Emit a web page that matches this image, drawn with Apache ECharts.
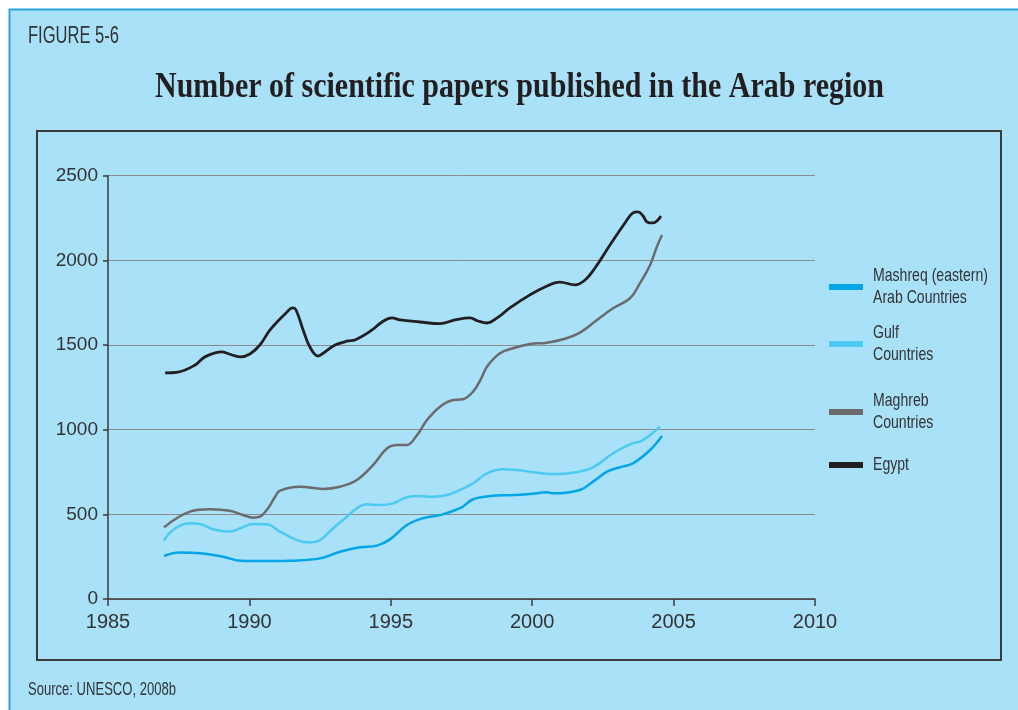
<!DOCTYPE html>
<html><head><meta charset="utf-8">
<script src="https://cdn.jsdelivr.net/npm/echarts@6/dist/echarts.min.js"></script>
<style>html,body{margin:0;padding:0;background:#fff;}#c{width:1018px;height:710px;}</style>
</head><body><div id="c"></div>
<script>
const figureLabel = 'FIGURE 5-6';
const titleText = 'Number of scientific papers published in the Arab region';
const sourceText = 'Source: UNESCO, 2008b';
const seriesNames = ['Mashreq (eastern)\nArab Countries', 'Gulf\nCountries', 'Maghreb\nCountries', 'Egypt'];
const seriesColors = ['#00a6e6', '#4ccaf3', '#6b6b6b', '#231f20'];
const xTicks = [1985, 1990, 1995, 2000, 2005, 2010];
const yTicks = [0, 500, 1000, 1500, 2000, 2500];

const mashreqYears = [1986.98,1987.55,1988.25,1989.07,1989.67,1990.83,1991.44,1992.50,1993.20,1993.91,1994.51,1994.97,1995.57,1996.14,1996.74,1997.45,1997.91,1998.51,1999.32,1999.92,2000.52,2000.74,2001.69,2002.15,2002.65,2003.11,2003.56,2004.17,2004.59];
const mashreqValues = [254,274,270,250,226,224,226,240,279,305,315,352,437,477,496,536,589,608,614,620,630,624,644,693,752,778,801,880,963];

const gulfYears = [1986.98,1987.30,1987.90,1988.25,1988.71,1989.31,1989.67,1990.13,1990.62,1991.08,1991.68,1992.14,1992.50,1992.96,1993.45,1993.80,1994.16,1994.62,1995.08,1995.57,1996.03,1996.49,1996.99,1997.45,1997.91,1998.40,1998.97,1999.46,1999.92,2000.74,2001.44,2002.15,2002.86,2003.56,2003.81,2004.17,2004.52];
const gulfValues = [344,408,447,443,412,398,418,443,441,398,348,333,348,418,486,536,559,555,565,601,608,604,614,644,683,742,766,762,752,738,746,778,861,920,929,969,1018];

const maghrebYears = [1986.98,1987.90,1988.61,1989.31,1989.77,1990.13,1990.37,1990.66,1990.91,1991.08,1991.79,1992.60,1993.20,1993.80,1994.37,1994.87,1995.22,1995.57,1995.93,1996.28,1996.74,1997.20,1997.55,1997.91,1998.19,1998.40,1998.86,1999.32,1999.92,2000.52,2001.09,2001.69,2002.29,2002.86,2003.46,2003.81,2004.17,2004.41,2004.59];
const maghrebValues = [423,516,530,521,496,480,486,536,604,640,663,650,663,703,791,890,910,910,969,1057,1136,1175,1180,1225,1300,1372,1451,1481,1506,1514,1534,1573,1648,1717,1776,1865,1973,2081,2150];

const egyptYears = [1987.02,1987.48,1988.08,1988.43,1989.03,1989.28,1989.67,1990.02,1990.37,1990.73,1991.26,1991.54,1991.65,1991.90,1992.14,1992.43,1992.57,1993.03,1993.49,1993.73,1994.34,1994.69,1995.04,1995.33,1996.03,1996.74,1997.27,1997.80,1998.08,1998.40,1998.76,1999.21,1999.92,2000.45,2000.98,2001.51,2001.87,2002.22,2002.75,2003.28,2003.56,2003.74,2003.92,2004.06,2004.27,2004.45,2004.55];
const egyptValues = [1335,1340,1382,1430,1459,1447,1430,1447,1500,1589,1683,1719,1707,1589,1488,1435,1447,1500,1524,1530,1589,1636,1660,1648,1636,1626,1648,1660,1642,1630,1660,1719,1796,1843,1872,1855,1884,1955,2091,2221,2280,2286,2262,2227,2221,2239,2262];

const allYears = [mashreqYears, gulfYears, maghrebYears, egyptYears];
const allValues = [mashreqValues, gulfValues, maghrebValues, egyptValues];

const cv = document.createElement('canvas').getContext('2d');
function fitScale(text, font, target) { cv.font = font; return target / cv.measureText(text).width; }

const titleFont = 'bold 35px "Liberation Serif"';
const figFont = '23px "Liberation Sans"';
const srcFont = '19px "Liberation Sans"';
const legFont = '19px "Liberation Sans"';
const legScale = fitScale('Mashreq (eastern)', legFont, 115);

const legendCenters = [287, 344, 412, 465];
const legendLineGap = 22;

const legendTexts = [];
seriesNames.forEach((n, i) => {
  const lines = n.split('\n');
  const top = legendCenters[i] - (lines.length - 1) * legendLineGap / 2;
  lines.forEach((ln, k) => {
    legendTexts.push({type: 'text', x: 873, y: top + k * legendLineGap, scaleX: legScale,
      style: {text: ln, font: legFont, fill: '#333333', align: 'left', verticalAlign: 'middle'}});
  });
});

const chart = echarts.init(document.getElementById('c'), null, {renderer: 'canvas'});
const option = {
  backgroundColor: '#ffffff',
  animation: false,
  graphic: [
    {type: 'rect', z: -100, shape: {x: 9.5, y: 9.5, width: 1040, height: 740}, style: {fill: '#a9e1f9', stroke: '#2ba6de', lineWidth: 2}},
    {type: 'rect', z: -90, shape: {x: 37, y: 131, width: 964, height: 529}, style: {fill: 'none', stroke: '#3b3b3b', lineWidth: 2}},
    {type: 'text', x: 28, y: 37, scaleX: fitScale(figureLabel, figFont, 91), style: {text: figureLabel, font: figFont, fill: '#333333', align: 'left', verticalAlign: 'middle'}},
    {type: 'text', x: 155, y: 88, scaleX: fitScale(titleText, titleFont, 729), style: {text: titleText, font: titleFont, fill: '#231f20', align: 'left', verticalAlign: 'middle'}},
    {type: 'text', x: 28, y: 690, scaleX: fitScale(sourceText, srcFont, 148), style: {text: sourceText, font: srcFont, fill: '#333333', align: 'left', verticalAlign: 'middle'}}
  ].concat(legendTexts),
  legend: seriesNames.map((n, i) => ({
    data: [n], orient: 'vertical', left: 829, top: legendCenters[i] - 3, padding: 0,
    icon: 'rect', itemWidth: 34, itemHeight: 6, itemGap: 0, selectedMode: true,
    formatter: () => '',
    textStyle: {fontSize: 6, lineHeight: 6}
  })),
  grid: {left: 108, right: 203, top: 175.7, bottom: 111, containLabel: false},
  xAxis: {
    type: 'value', min: xTicks[0], max: xTicks[xTicks.length - 1], interval: 5,
    axisLine: {show: true, lineStyle: {color: '#3b3b3b', width: 1.5}},
    axisTick: {show: true, inside: false, length: 7, lineStyle: {color: '#3b3b3b', width: 1.5}},
    axisLabel: {formatter: v => String(v), fontFamily: '"Liberation Sans"', fontSize: 20, color: '#333333', margin: 13},
    splitLine: {show: false}
  },
  yAxis: {
    type: 'value', min: yTicks[0], max: yTicks[yTicks.length - 1], interval: 500,
    axisLine: {show: true, lineStyle: {color: '#3b3b3b', width: 1.5}},
    axisTick: {show: true, inside: false, length: 5, lineStyle: {color: '#3b3b3b', width: 1.5}},
    axisLabel: {formatter: v => String(v), fontFamily: '"Liberation Sans"', fontSize: 19, color: '#333333', margin: 10},
    splitLine: {show: true, lineStyle: {color: '#8c8c8c', width: 1}}
  },
  series: seriesNames.map((n, i) => ({
    name: n, type: 'line', smooth: 0.4, showSymbol: false, symbol: 'none',
    lineStyle: {color: seriesColors[i], width: i === 3 ? 2.8 : 2.5},
    itemStyle: {color: seriesColors[i]},
    data: allYears[i].map((y, k) => [y, allValues[i][k]])
  }))
};
chart.setOption(option);
</script></body></html>
